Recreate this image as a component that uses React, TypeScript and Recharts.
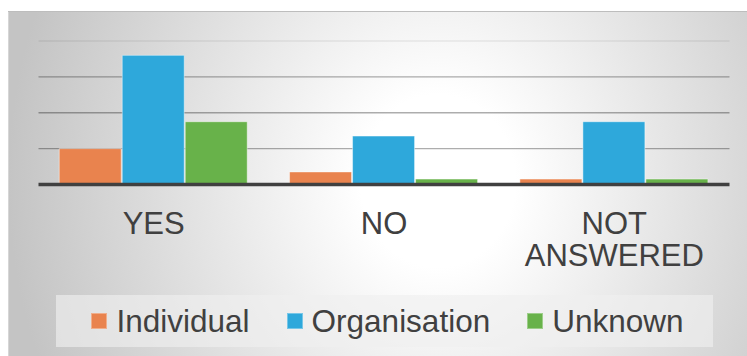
import React from "react";
import { BarChart, Bar, XAxis, YAxis, CartesianGrid, Legend } from "recharts";

// Responses grouped by answer, split by respondent type
const categories = ["YES", "NO", "NOT\nANSWERED"];
const individual = [20, 7, 3];
const organisation = [72, 27, 35];
const unknown = [35, 3, 3];
const yTicks = [0, 20, 40, 60, 80];

const seriesNames = ["Individual", "Organisation", "Unknown"];
const seriesColors = ["#E9834E", "#2EA8DB", "#68B24A"];

const data = categories.map((c, i) => ({
  category: c,
  Individual: individual[i],
  Organisation: organisation[i],
  Unknown: unknown[i],
}));

const FONT = "'Liberation Sans', Arial, Helvetica, sans-serif";
const TEXT = "#404040";

const CategoryTick = (props: any) => {
  const { x, y, payload } = props;
  const lines = String(payload.value).split("\n");
  return (
    <text x={x} y={y + 49.5} textAnchor="middle" fill={TEXT} fontSize={31} fontFamily={FONT}>
      {lines.map((l, i) => (
        <tspan key={i} x={x} dy={i === 0 ? 0 : 32}>
          {l}
        </tspan>
      ))}
    </text>
  );
};

const GridLine = (props: any) => {
  const { x1, x2, y1, y2, index } = props;
  if (index === 0) return <g />;
  const top = index === yTicks.length - 1;
  return (
    <line
      x1={x1}
      x2={x2}
      y1={y1}
      y2={y2}
      stroke="#000"
      strokeOpacity={top ? 0.07 : 0.32}
      strokeWidth={1.3}
    />
  );
};

const LegendBox = (props: any) => {
  const payload = props.payload || [];
  return (
    <div
      style={{
        width: "100%",
        height: "100%",
        background: "rgba(239,239,239,0.64)",
        display: "flex",
        alignItems: "center",
        justifyContent: "center",
        paddingLeft: 6,
        boxSizing: "border-box",
        fontFamily: FONT,
        fontSize: 31.5,
        color: TEXT,
        gap: 37,
      }}
    >
      {payload.map((p: any) => (
        <div key={p.value} style={{ display: "flex", alignItems: "center", gap: 9 }}>
          <span
            style={{
              width: 16,
              height: 16,
              background: p.color,
              boxShadow: "inset 0 0 0 1px rgba(255,255,255,0.35)",
              display: "inline-block",
            }}
          />
          <span style={{ lineHeight: "36px", whiteSpace: "nowrap" }}>{p.value}</span>
        </div>
      ))}
    </div>
  );
};

export default function App() {
  return (
    <div
      style={{
        position: "absolute",
        left: 8,
        top: 11,
        width: 739,
        height: 345,
        overflow: "hidden",
        background:
          "radial-gradient(ellipse 430px 480px at 430px 170px, #ffffff 0%, #ffffff 18%, #c4c4c4 100%)",
        boxShadow: "inset 0 1px 0 #bdbdbd, inset 1px 0 0 #d6d6d6",
      }}
    >
      <BarChart
        width={739}
        height={345}
        data={data}
        margin={{ top: 30, right: 17.5, left: 30.5, bottom: 71.5 }}
        barCategoryGap="9%"
        barGap={1}
        style={{ fontFamily: FONT }}
      >
        <CartesianGrid vertical={false} horizontal={GridLine as any} />
        <YAxis hide domain={[0, 80]} ticks={yTicks} />
        <XAxis
          dataKey="category"
          height={100}
          tickSize={0}
          tickMargin={0}
          tickLine={false}
          axisLine={{ stroke: "#404040", strokeWidth: 3.5 }}
          tick={<CategoryTick />}
          interval={0}
        />
        <Legend
          verticalAlign="middle"
          align="center"
          width={657}
          height={52}
          wrapperStyle={{ position: "absolute", left: 48, top: 284, width: 657, height: 52 }}
          content={<LegendBox />}
        />
        {seriesNames.map((name, i) => (
          <Bar
            key={name}
            dataKey={name}
            fill={seriesColors[i]}
            stroke="rgba(255,255,255,0.45)"
            strokeWidth={1}
            isAnimationActive={false}
          />
        ))}
      </BarChart>
    </div>
  );
}
